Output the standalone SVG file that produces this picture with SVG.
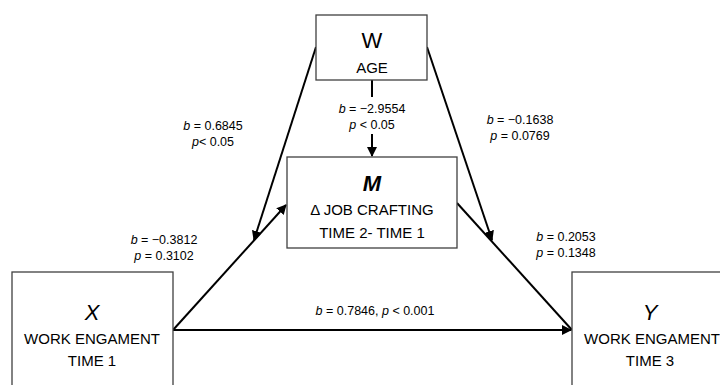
<svg xmlns="http://www.w3.org/2000/svg" width="720" height="385" viewBox="0 0 720 385">
<style>
.box{fill:#fff;stroke:#404040;stroke-width:1.3}
.ln{stroke:#000;stroke-width:2;fill:none}
.t{font-family:"Liberation Sans",Arial,sans-serif;fill:#000;text-anchor:middle}
.big{font-size:22px}
.lab{font-size:15px}
.st{font-size:12.5px}
.i{font-style:italic}
</style>
<defs>
<marker id="ah" viewBox="0 0 10 10" refX="9" refY="5" markerWidth="5" markerHeight="5" orient="auto" markerUnits="strokeWidth">
<path d="M0,0 L10,5 L0,10 z" fill="#000"/>
</marker>
</defs>
<rect width="720" height="385" fill="#fff"/>
<g id="connectors">
<line class="ln" x1="173" y1="330" x2="286" y2="205" marker-end="url(#ah)"/>
<line class="ln" x1="457" y1="203" x2="572" y2="330"/>
<line class="ln" x1="173" y1="330" x2="571" y2="330" marker-end="url(#ah)"/>
<line class="ln" x1="316" y1="47" x2="254" y2="240" marker-end="url(#ah)"/>
<line class="ln" x1="427" y1="47" x2="492" y2="240" marker-end="url(#ah)"/>
<line class="ln" x1="372" y1="80" x2="372" y2="97"/>
<line class="ln" x1="372" y1="134" x2="372" y2="156" marker-end="url(#ah)"/>
</g>
<g id="node-W">
<rect class="box" x="316" y="15" width="111" height="65"/>
<text class="t big" x="372" y="48">W</text>
<text class="t lab" x="372" y="73">AGE</text>
</g>
<g id="node-M">
<rect class="box" x="287" y="157" width="170" height="91"/>
<text class="t big i" x="372" y="191" font-weight="bold">M</text>
<text class="t lab" x="372" y="215">Δ JOB CRAFTING</text>
<text class="t lab" x="372" y="238">TIME 2- TIME 1</text>
</g>
<g id="node-X">
<rect class="box" x="12" y="272" width="161" height="120"/>
<text class="t big i" x="92" y="320">X</text>
<text class="t lab" x="92" y="344">WORK ENGAMENT</text>
<text class="t lab" x="92" y="366">TIME 1</text>
</g>
<g id="node-Y">
<rect class="box" x="572" y="272" width="160" height="120"/>
<text class="t big i" x="650" y="320">Y</text>
<text class="t lab" x="652" y="344">WORK ENGAMENT</text>
<text class="t lab" x="650" y="366">TIME 3</text>
</g>
<g id="labels">
<text class="t st" x="372" y="113"><tspan class="i">b</tspan> = −2.9554</text>
<text class="t st" x="372" y="129"><tspan class="i">p</tspan> &lt; 0.05</text>
<text class="t st" x="213" y="130"><tspan class="i">b</tspan> = 0.6845</text>
<text class="t st" x="213" y="146"><tspan class="i">p</tspan>&lt; 0.05</text>
<text class="t st" x="520" y="124"><tspan class="i">b</tspan> = −0.1638</text>
<text class="t st" x="520" y="140"><tspan class="i">p</tspan> = 0.0769</text>
<text class="t st" x="164" y="244"><tspan class="i">b</tspan> = −0.3812</text>
<text class="t st" x="164" y="260"><tspan class="i">p</tspan> = 0.3102</text>
<text class="t st" x="566" y="241"><tspan class="i">b</tspan> = 0.2053</text>
<text class="t st" x="566" y="257"><tspan class="i">p</tspan> = 0.1348</text>
<text class="t st" x="375" y="315"><tspan class="i">b</tspan> = 0.7846, <tspan class="i">p</tspan> &lt; 0.001</text>
</g>
</svg>
